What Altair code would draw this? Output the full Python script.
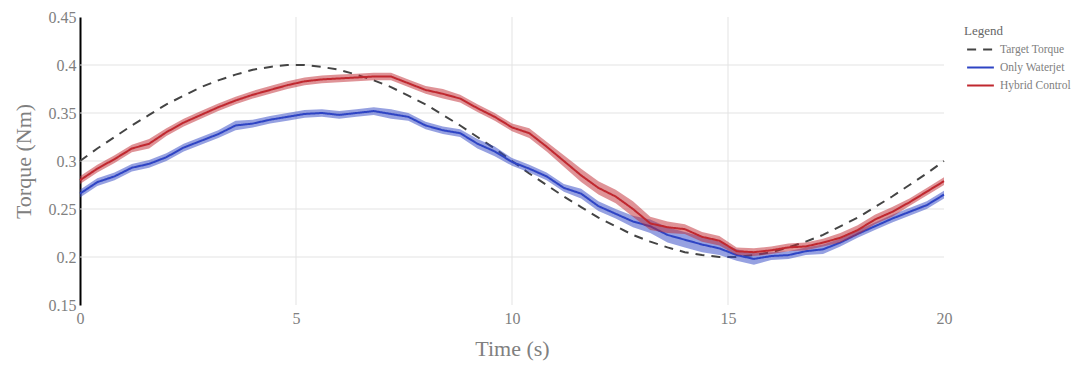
import altair as alt
import pandas as pd

# ---- data ----
time = [0.0, 0.4, 0.8, 1.2, 1.6, 2.0, 2.4, 2.8, 3.2, 3.6,
        4.0, 4.4, 4.8, 5.2, 5.6, 6.0, 6.4, 6.8, 7.2, 7.6,
        8.0, 8.4, 8.8, 9.2, 9.6, 10.0, 10.4, 10.8, 11.2, 11.6,
        12.0, 12.4, 12.8, 13.2, 13.6, 14.0, 14.4, 14.8, 15.2, 15.6,
        16.0, 16.4, 16.8, 17.2, 17.6, 18.0, 18.4, 18.8, 19.2, 19.6,
        20.0]

target = [0.300, 0.313, 0.325, 0.337, 0.348, 0.359, 0.368, 0.377, 0.384, 0.390,
          0.395, 0.398, 0.400, 0.400, 0.398, 0.395, 0.390, 0.384, 0.377, 0.368,
          0.359, 0.348, 0.337, 0.325, 0.313, 0.300, 0.287, 0.275, 0.263, 0.252,
          0.241, 0.232, 0.223, 0.216, 0.210, 0.205, 0.202, 0.200, 0.200, 0.202,
          0.205, 0.210, 0.216, 0.223, 0.232, 0.241, 0.252, 0.263, 0.275, 0.287,
          0.300]

waterjet = [0.266, 0.278, 0.284, 0.293, 0.297, 0.304, 0.314, 0.321, 0.328, 0.337,
            0.339, 0.343, 0.346, 0.349, 0.350, 0.348, 0.350, 0.352, 0.349, 0.346,
            0.337, 0.332, 0.329, 0.318, 0.310, 0.299, 0.292, 0.284, 0.272, 0.266,
            0.253, 0.245, 0.237, 0.232, 0.223, 0.218, 0.213, 0.209, 0.202, 0.198,
            0.201, 0.202, 0.206, 0.208, 0.215, 0.224, 0.232, 0.240, 0.247, 0.254,
            0.265]

waterjet_err = [0.004, 0.004, 0.004, 0.004, 0.004, 0.004, 0.004, 0.004, 0.004, 0.005,
                0.004, 0.004, 0.004, 0.004, 0.004, 0.004, 0.004, 0.004, 0.005, 0.004,
                0.004, 0.004, 0.004, 0.005, 0.005, 0.004, 0.004, 0.004, 0.004, 0.005,
                0.005, 0.005, 0.006, 0.007, 0.008, 0.008, 0.008, 0.007, 0.006, 0.006,
                0.004, 0.004, 0.004, 0.005, 0.004, 0.004, 0.004, 0.004, 0.004, 0.004,
                0.004]

hybrid = [0.280, 0.292, 0.302, 0.313, 0.318, 0.330, 0.340, 0.348, 0.356, 0.363,
          0.369, 0.374, 0.379, 0.383, 0.385, 0.386, 0.387, 0.388, 0.388, 0.381,
          0.374, 0.370, 0.365, 0.355, 0.346, 0.335, 0.329, 0.315, 0.300, 0.285,
          0.272, 0.263, 0.250, 0.235, 0.231, 0.229, 0.221, 0.217, 0.206, 0.205,
          0.207, 0.210, 0.211, 0.215, 0.220, 0.228, 0.239, 0.247, 0.257, 0.268,
          0.279]

hybrid_err = [0.004, 0.004, 0.004, 0.004, 0.005, 0.004, 0.004, 0.004, 0.004, 0.004,
              0.004, 0.004, 0.004, 0.004, 0.004, 0.004, 0.004, 0.004, 0.004, 0.004,
              0.004, 0.005, 0.004, 0.004, 0.004, 0.004, 0.005, 0.005, 0.006, 0.007,
              0.007, 0.007, 0.008, 0.007, 0.006, 0.005, 0.005, 0.005, 0.004, 0.004,
              0.004, 0.004, 0.004, 0.004, 0.005, 0.005, 0.005, 0.005, 0.004, 0.004,
              0.004]

series_names = ["Target Torque", "Only Waterjet", "Hybrid Control"]
series_colors = ["#444444", "#2e44c4", "#c0282f"]
x_ticks = [0, 5, 10, 15, 20]
y_ticks = [0.15, 0.2, 0.25, 0.3, 0.35, 0.4, 0.45]
x_grid = [5, 10, 15]
y_grid = [0.2, 0.25, 0.3, 0.35, 0.4]

# ---- tables ----
def line_df(name, vals):
    return pd.DataFrame({"series": name, "t": time, "v": vals})

def band_df(name, vals, errs):
    return pd.DataFrame({"series": name, "t": time,
                         "lo": [a - e for a, e in zip(vals, errs)],
                         "hi": [a + e for a, e in zip(vals, errs)]})

FONT = "Liberation Serif"
GRAY = "#808080"

xscale = alt.Scale(domain=[0, 20], nice=False, zero=False)
yscale = alt.Scale(domain=[0.15, 0.45], nice=False, zero=False)

x_enc = alt.X("t:Q", scale=xscale,
              axis=alt.Axis(values=x_ticks, title="Time (s)", grid=False, domain=False,
                            ticks=False, labelPadding=5, labelFontSize=16, labelColor=GRAY,
                            labelFlush=False,
                            labelFont=FONT, titleFont=FONT, titleFontSize=22,
                            titleColor=GRAY, titleFontWeight="normal", titlePadding=12))
y_axis = alt.Axis(values=y_ticks, format="~g", title="Torque (Nm)", grid=False,
                  domain=True, domainColor="#000000", domainWidth=2, ticks=False,
                  labelFlush=False,
                  labelPadding=4, labelFontSize=16, labelColor=GRAY, labelFont=FONT,
                  titleFont=FONT, titleFontSize=22, titleColor=GRAY,
                  titleFontWeight="normal", titlePadding=13)

legend = alt.Legend(title="Legend", orient="none", legendX=884, legendY=8,
                    titleFont=FONT, titleFontSize=13, titleColor="#666666",
                    titleFontWeight="normal", titlePadding=2,
                    labelFont=FONT, labelFontSize=11.5, labelColor=GRAY,
                    symbolType="M-1.6,0L1.6,0", symbolSize=280, symbolStrokeWidth=2,
                    symbolOffset=7, labelOffset=10, rowPadding=3)

color_enc = alt.Color("series:N", scale=alt.Scale(domain=series_names, range=series_colors),
                      legend=legend)
dash_enc = alt.StrokeDash("series:N",
                          scale=alt.Scale(domain=series_names, range=[[9, 7], [1, 0], [1, 0]]),
                          legend=legend)

def line_layer(df):
    return alt.Chart(df).mark_line(strokeWidth=2).encode(
        x=x_enc, y=alt.Y("v:Q", scale=yscale, axis=y_axis),
        color=color_enc, strokeDash=dash_enc)

def band_layer(df):
    return alt.Chart(df).mark_area(opacity=0.5).encode(
        x=x_enc, y=alt.Y("lo:Q", scale=yscale, axis=y_axis), y2="hi:Q",
        fill=alt.Fill("series:N",
                      scale=alt.Scale(domain=series_names, range=series_colors),
                      legend=None))

xgrid = alt.Chart(pd.DataFrame({"g": x_grid})).mark_rule(color="#e3e3e3", strokeWidth=1).encode(
    x=alt.X("g:Q", scale=xscale))
ygrid = alt.Chart(pd.DataFrame({"g": y_grid})).mark_rule(color="#e3e3e3", strokeWidth=1).encode(
    y=alt.Y("g:Q", scale=yscale))

chart = alt.layer(
    xgrid, ygrid,
    line_layer(line_df("Target Torque", target)),
    band_layer(band_df("Only Waterjet", waterjet, waterjet_err)),
    line_layer(line_df("Only Waterjet", waterjet)),
    band_layer(band_df("Hybrid Control", hybrid, hybrid_err)),
    line_layer(line_df("Hybrid Control", hybrid)),
).properties(
    width=864, height=288,
    autosize=alt.AutoSizeParams(type="none"),
    padding={"left": 80, "top": 17, "right": 130, "bottom": 60},
    background="white",
).configure_view(stroke=None)

chart.save("out.html", embed_options={"renderer": "svg", "actions": False})
